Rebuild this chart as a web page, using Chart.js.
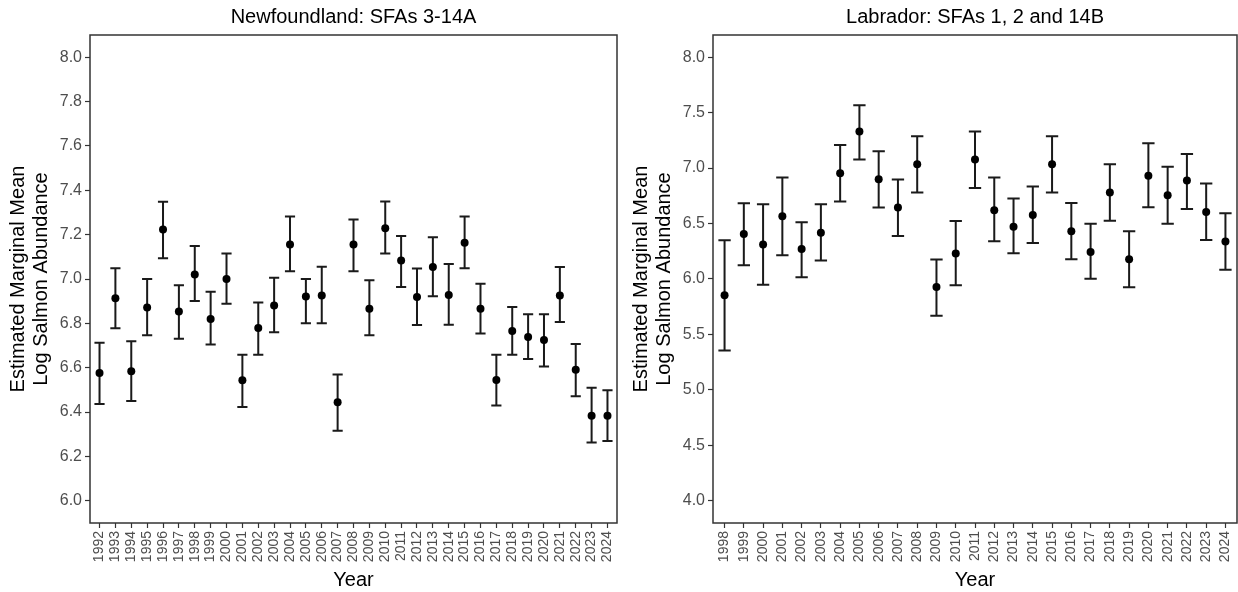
<!DOCTYPE html>
<html>
<head>
<meta charset="utf-8">
<script src="https://cdn.jsdelivr.net/npm/chart.js@4"></script>
<style>
  html, body { margin: 0; padding: 0; background: #fff; overflow: hidden; }
  .panel { position: absolute; top: 0; height: 592px; }
  #nlWrap { left: 0; width: 621px; }
  #labWrap { left: 623px; width: 618px; }
</style>
</head>
<body>
<div class="panel" id="nlWrap"><canvas id="nlChart" width="621" height="592"></canvas></div>
<div class="panel" id="labWrap"><canvas id="labChart" width="618" height="592"></canvas></div>
<script>
// Newfoundland: SFAs 3-14A
const nlYears = [1992, 1993, 1994, 1995, 1996, 1997, 1998, 1999, 2000, 2001, 2002,
  2003, 2004, 2005, 2006, 2007, 2008, 2009, 2010, 2011, 2012, 2013, 2014, 2015,
  2016, 2017, 2018, 2019, 2020, 2021, 2022, 2023, 2024];
const nlMean = [6.576, 6.913, 6.584, 6.872, 7.223, 6.853, 7.020, 6.820, 7.000, 6.543, 6.779,
  6.880, 7.155, 6.921, 6.926, 6.444, 7.155, 6.866, 7.229, 7.083, 6.919, 7.054, 6.928, 7.163,
  6.866, 6.545, 6.766, 6.739, 6.725, 6.926, 6.591, 6.384, 6.384];
const nlLower = [6.437, 6.778, 6.450, 6.746, 7.093, 6.731, 6.901, 6.705, 6.888, 6.423, 6.659,
  6.760, 7.035, 6.801, 6.801, 6.316, 7.035, 6.746, 7.115, 6.964, 6.793, 6.922, 6.794, 7.049,
  6.754, 6.430, 6.659, 6.639, 6.605, 6.806, 6.471, 6.263, 6.270];
const nlUpper = [6.713, 7.049, 6.719, 7.000, 7.348, 6.972, 7.149, 6.942, 7.115, 6.658, 6.894,
  7.006, 7.282, 7.000, 7.055, 6.570, 7.268, 6.994, 7.349, 7.194, 7.047, 7.188, 7.068, 7.282,
  6.979, 6.659, 6.874, 6.841, 6.841, 7.054, 6.707, 6.510, 6.498];
const nlYTicks = [6.0, 6.2, 6.4, 6.6, 6.8, 7.0, 7.2, 7.4, 7.6, 7.8, 8.0];

// Labrador: SFAs 1, 2 and 14B
const labYears = [1998, 1999, 2000, 2001, 2002, 2003, 2004, 2005, 2006, 2007, 2008,
  2009, 2010, 2011, 2012, 2013, 2014, 2015, 2016, 2017, 2018, 2019, 2020, 2021,
  2022, 2023, 2024];
const labMean = [5.853, 6.406, 6.310, 6.565, 6.271, 6.418, 6.953, 7.330, 6.899, 6.644, 7.035,
  5.928, 6.229, 7.077, 6.620, 6.472, 6.578, 7.035, 6.430, 6.244, 6.779, 6.177, 6.930, 6.755,
  6.887, 6.605, 6.337];
const labLower = [5.356, 6.123, 5.949, 6.214, 6.015, 6.166, 6.698, 7.077, 6.644, 6.388, 6.779,
  5.669, 5.943, 6.821, 6.340, 6.232, 6.325, 6.779, 6.177, 6.003, 6.526, 5.925, 6.647, 6.499,
  6.632, 6.352, 6.084];
const labUpper = [6.349, 6.683, 6.674, 6.915, 6.511, 6.674, 7.209, 7.567, 7.152, 6.897, 7.287,
  6.175, 6.524, 7.330, 6.915, 6.725, 6.833, 7.287, 6.686, 6.499, 7.035, 6.430, 7.224, 7.011,
  7.128, 6.860, 6.592];
const labYTicks = [4.0, 4.5, 5.0, 5.5, 6.0, 6.5, 7.0, 7.5, 8.0];

const FONT = "'Liberation Sans', Arial, sans-serif";
const INK = '#333333';

// error bars (stem + caps) drawn under the points
function errorBars(years, lower, upper) {
  return {
    id: 'errorBars',
    beforeDatasetsDraw(chart) {
      const { ctx, scales: { x, y } } = chart;
      ctx.save();
      ctx.strokeStyle = '#1a1a1a';
      ctx.lineWidth = 2;
      years.forEach((yr, i) => {
        const cx = x.getPixelForValue(yr);
        const half = x.getPixelForValue(yr + 0.32) - cx;
        const top = y.getPixelForValue(upper[i]);
        const bot = y.getPixelForValue(lower[i]);
        ctx.beginPath();
        ctx.moveTo(cx, top); ctx.lineTo(cx, bot);
        ctx.moveTo(cx - half, top); ctx.lineTo(cx + half, top);
        ctx.moveTo(cx - half, bot); ctx.lineTo(cx + half, bot);
        ctx.stroke();
      });
      ctx.restore();
    }
  };
}

const panelBorder = {
  id: 'panelBorder',
  afterDraw(chart) {
    const { ctx, chartArea: a } = chart;
    ctx.save();
    ctx.strokeStyle = INK;
    ctx.lineWidth = 1.5;
    ctx.strokeRect(a.left, a.top, a.right - a.left, a.bottom - a.top);
    ctx.restore();
  }
};

function makeChart(id, title, years, mean, lower, upper, yTicks, yMin, yMax) {
  const xMin = years[0] - 0.6;
  const xMax = years[years.length - 1] + 0.6;
  return new Chart(document.getElementById(id), {
    type: 'scatter',
    data: {
      datasets: [{
        data: years.map((yr, i) => ({ x: yr, y: mean[i] })),
        backgroundColor: '#000',
        borderWidth: 0,
        pointRadius: 4,
        pointHoverRadius: 4
      }]
    },
    options: {
      responsive: false,
      animation: false,
      events: [],
      layout: { padding: { left: 0, right: 1, top: 0, bottom: 0 } },
      plugins: {
        legend: { display: false },
        tooltip: { enabled: false },
        title: {
          display: true,
          text: title,
          fullSize: false,
          color: '#000',
          font: { family: FONT, size: 20, weight: 'normal', lineHeight: 1.2 },
          padding: { top: 5, bottom: 6 }
        }
      },
      scales: {
        x: {
          type: 'linear',
          min: xMin,
          max: xMax,
          afterBuildTicks: scale => { scale.ticks = years.map(v => ({ value: v })); },
          afterFit: scale => {
            scale.height = 69;
            scale.paddingLeft = 0;
            scale.paddingRight = 0;
          },
          grid: { drawOnChartArea: false, drawTicks: true, tickLength: 5, color: INK, tickWidth: 1.2 },
          border: { display: false },
          ticks: {
            autoSkip: false,
            minRotation: 90,
            maxRotation: 90,
            padding: 3,
            color: '#4d4d4d',
            font: { family: FONT, size: 14 },
            callback: v => String(v)
          },
          title: {
            display: true,
            text: 'Year',
            color: '#000',
            font: { family: FONT, size: 20, lineHeight: 1.15 },
            padding: { top: 0, bottom: 0.5 }
          }
        },
        y: {
          min: yMin,
          max: yMax,
          afterBuildTicks: scale => { scale.ticks = yTicks.map(v => ({ value: v })); },
          afterFit: scale => {
            scale.width = 90;
            scale.paddingTop = 0;
            scale.paddingBottom = 0;
          },
          grid: { drawOnChartArea: false, drawTicks: true, tickLength: 5, color: INK, tickWidth: 1.2 },
          border: { display: false },
          ticks: {
            padding: 3,
            color: '#4d4d4d',
            font: { family: FONT, size: 16 },
            callback: v => v.toFixed(1)
          },
          title: {
            display: true,
            text: ['Estimated Marginal Mean', 'Log Salmon Abundance'],
            color: '#000',
            font: { family: FONT, size: 20, lineHeight: 1.15 },
            padding: { top: 7, bottom: 0 }
          }
        }
      }
    },
    plugins: [errorBars(years, lower, upper), panelBorder]
  });
}

document.addEventListener('DOMContentLoaded', function() {
  makeChart('nlChart', 'Newfoundland: SFAs 3-14A', nlYears, nlMean, nlLower, nlUpper, nlYTicks, 5.9, 8.1);
  makeChart('labChart', 'Labrador: SFAs 1, 2 and 14B', labYears, labMean, labLower, labUpper, labYTicks, 3.8, 8.2);
});
</script>
</body>
</html>
